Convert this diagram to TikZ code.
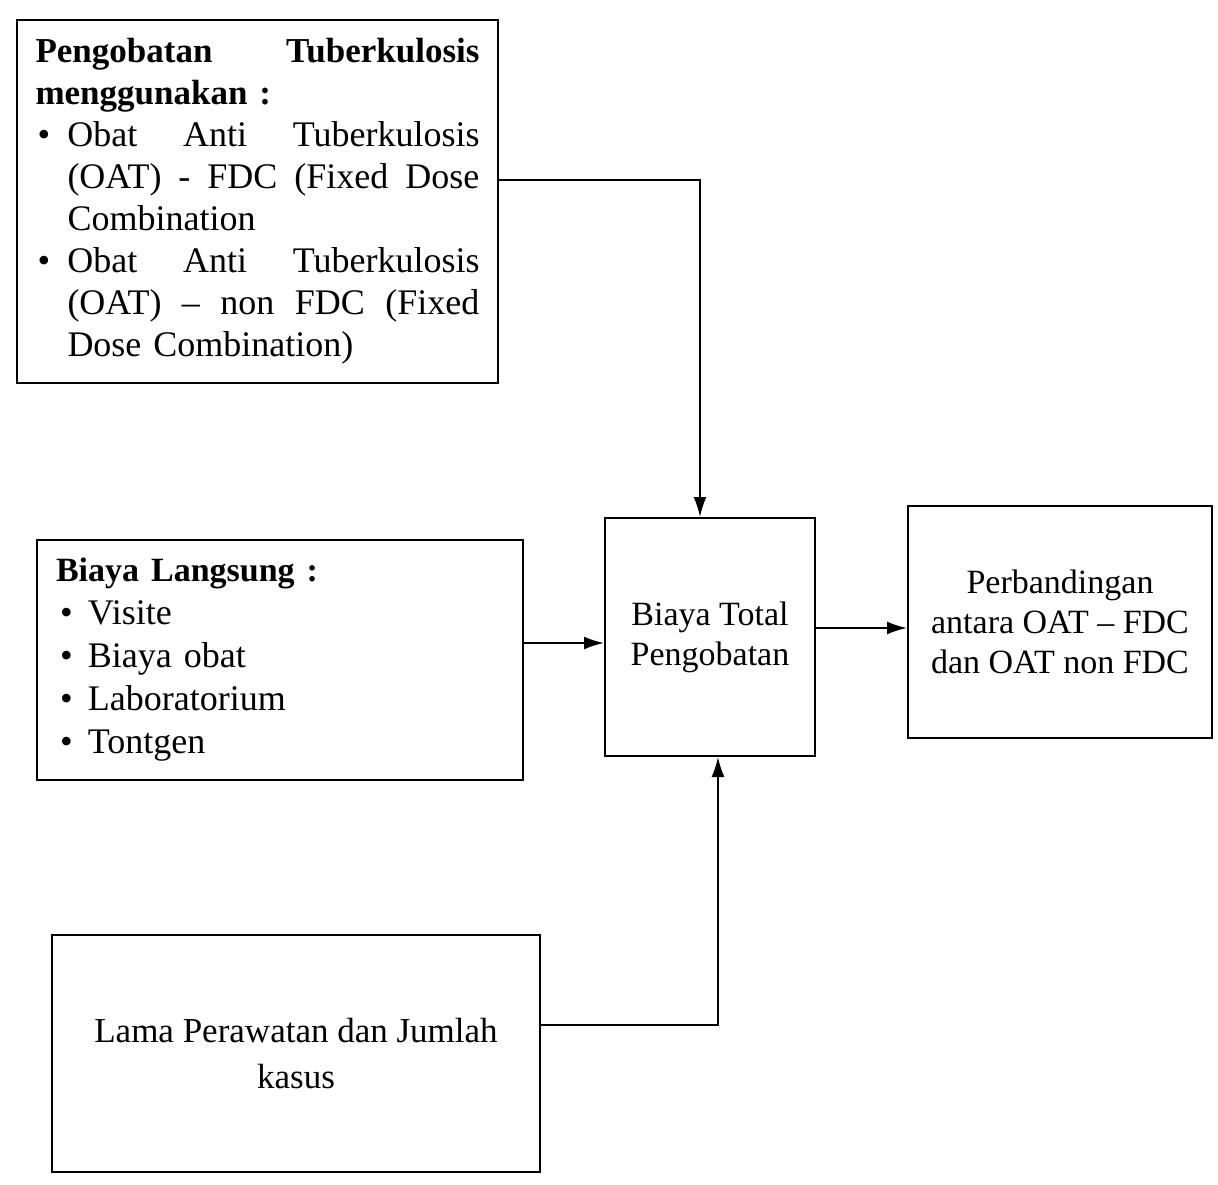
\documentclass[tikz,border=0pt]{standalone}
\usepackage{fontspec}
\setmainfont{Liberation Serif}
\usetikzlibrary{arrows.meta}
\begin{document}
\begin{tikzpicture}[x=1pt,y=-1pt,
  box/.style={draw, line width=2pt, inner sep=0pt},
  arr/.style={line width=2pt, -{Latex[length=20pt,width=13pt]}},
  font=\fontsize{34}{42}\selectfont]
\useasboundingbox (0,0) rectangle (1218,1184);
\fill[white] (0,0) rectangle (1218,1184);

% top-left box
\node[box, minimum width=481pt, minimum height=363pt, text width=444pt, align=left,
      font=\fontsize{36}{42}\selectfont] (obat) at (257.5,201.5)
{\makebox[444pt][l]{\fontsize{35}{42}\selectfont\bfseries Pengobatan\hfill Tuberkulosis}\\
 {\fontsize{35}{42}\selectfont\bfseries menggunakan :}\\
 \hspace*{2pt}\makebox[30pt][l]{\textbullet}\makebox[412pt][l]{Obat\hfill Anti\hfill Tuberkulosis}\\
 \hspace*{32pt}\makebox[412pt][l]{(OAT)\hfill -\hfill FDC\hfill (Fixed\hfill Dose}\\
 \hspace*{32pt}Combination\\
 \hspace*{2pt}\makebox[30pt][l]{\textbullet}\makebox[412pt][l]{Obat\hfill Anti\hfill Tuberkulosis}\\
 \hspace*{32pt}\makebox[412pt][l]{(OAT)\hfill --\hfill non\hfill FDC\hfill (Fixed}\\
 \hspace*{32pt}Dose Combination)};

% Biaya Langsung box
\node[box, minimum width=486pt, minimum height=240pt, text width=448pt, align=left,
      font=\fontsize{36}{43}\selectfont] (langsung) at (280,660)
{{\fontsize{34}{43}\selectfont\bfseries Biaya Langsung :}\\
 \hspace*{4pt}\makebox[28pt][l]{\textbullet}Visite\\
 \hspace*{4pt}\makebox[28pt][l]{\textbullet}Biaya obat\\
 \hspace*{4pt}\makebox[28pt][l]{\textbullet}Laboratorium\\
 \hspace*{4pt}\makebox[28pt][l]{\textbullet}Tontgen};

% Lama Perawatan box
\node[box, minimum width=488pt, minimum height=237pt, align=center,
      font=\fontsize{35}{46}\selectfont] (lama) at (296,1053.5)
{Lama Perawatan dan Jumlah\\kasus};

% Biaya Total box
\node[box, minimum width=210pt, minimum height=238pt, align=center,
      font=\fontsize{34}{40}\selectfont] (total) at (710,637)
{Biaya Total\\Pengobatan};

% Perbandingan box
\node[box, minimum width=304pt, minimum height=232pt, align=center,
      font=\fontsize{34}{40}\selectfont] (perb) at (1060,622)
{Perbandingan\\antara OAT -- FDC\\dan OAT non FDC};

% connectors
\coordinate (o1) at ([yshift=21.5pt]obat.east);
\draw[arr] (o1) -| ([xshift=-10pt]total.north);

\coordinate (l1) at ([yshift=17pt]langsung.east);
\draw[arr] (l1) -- (l1 -| total.west);

\coordinate (t1) at ([yshift=9pt]total.east);
\draw[arr] (t1) -- (t1 -| perb.west);

\coordinate (m1) at ([yshift=28.5pt]lama.east);
\draw[arr] (m1) -| ([xshift=8pt]total.south);
\end{tikzpicture}
\end{document}
